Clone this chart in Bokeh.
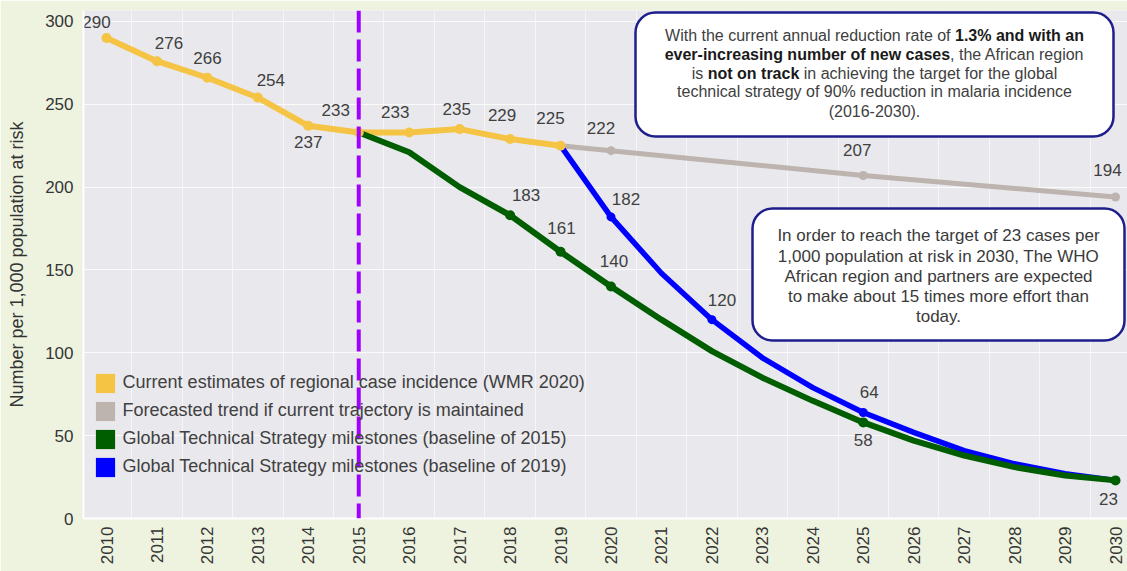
import math
from bokeh.plotting import figure
from bokeh.models import (ColumnDataSource, FixedTicker, Span, BoxAnnotation, Label,
                          Legend, LegendItem, Range1d)
from bokeh.core.properties import value
from bokeh.embed import file_html
from bokeh.resources import INLINE

# ---------------- data ----------------
years_actual = [2010, 2011, 2012, 2013, 2014, 2015, 2016, 2017, 2018, 2019]
incidence_actual = [290, 276, 266, 254, 237, 233, 233, 235, 229, 225]

years_forecast = [2019, 2020, 2025, 2030]
incidence_forecast = [225, 222, 207, 194]

years_gts2015 = [2015, 2016, 2017, 2018, 2019, 2020, 2021, 2022, 2023, 2024,
                 2025, 2026, 2027, 2028, 2029, 2030]
incidence_gts2015 = [233, 221, 200, 183, 161, 140, 120, 101, 85, 71, 58, 47, 38, 31, 26, 23]

years_gts2019 = [2019, 2020, 2021, 2022, 2023, 2024, 2025, 2026, 2027, 2028, 2029, 2030]
incidence_gts2019 = [225, 182, 148, 120, 97, 79, 64, 52, 41, 33, 27, 23]

labeled_actual = years_actual
labeled_forecast = [2020, 2025, 2030]
labeled_gts2015 = [2018, 2019, 2020, 2025, 2030]
labeled_gts2019 = [2020, 2022, 2025]

year_ticks = list(range(2010, 2031))
y_ticks = [0, 50, 100, 150, 200, 250, 300]

series_names = [
    "Current estimates of regional case incidence (WMR 2020)",
    "Forecasted trend if current trajectory is maintained",
    "Global Technical Strategy milestones (baseline of 2015)",
    "Global Technical Strategy milestones (baseline of 2019)",
]
baseline_year = 2015

note1_lines = [
    [("With the current annual reduction rate of ", False), ("1.3% and with an", True)],
    [("ever-increasing number of new cases", True), (", the African region", False)],
    [("is ", False), ("not on track", True), (" in achieving the target for the global", False)],
    [("technical strategy of 90% reduction in malaria incidence", False)],
    [("(2016-2030).", False)],
]
note2_lines = [
    "In order to reach the target of 23 cases per",
    "1,000 population at risk in 2030, The WHO",
    "African region and partners are expected",
    "to make about 15 times more effort than",
    "today.",
]

# ---------------- styling ----------------
C_YELLOW = "#F5C445"
C_GREY = "#BDB4AF"
C_GREEN = "#005E00"
C_BLUE = "#0000FF"
C_PURPLE = "#A000FF"
C_TEXT = "#404040"
FONT = "Liberation Sans"

# label offsets in screen px (dx right, dy down)
off_actual = [(-10, -16), (12, -18), (0, -20), (13, -18), (0, 16),
              (-23, -22), (-14, -20), (-3, -20), (-8, -24), (-10, -28)]
off_forecast = [(-10, -23), (-6, -26), (-8, -27)]
off_gts2015 = [(16, -20), (1, -24), (3, -26), (0, 18), (-7, 19)]
off_gts2019 = [(15, -18), (10, -20), (6, -20)]

W, H = 1127, 571
FRAME_L, FRAME_T, FRAME_B = 83, 10, 518
X_PER_YEAR = 50.45
Y_PER_UNIT = 1.657


def px_to_x(px):
    return 2010 + (px - 106) / X_PER_YEAR


def py_to_y(py):
    return (FRAME_B - py) / Y_PER_UNIT


p = figure(width=W, height=H,
           x_range=Range1d(px_to_x(FRAME_L), px_to_x(W)),
           y_range=Range1d(0, py_to_y(FRAME_T)),
           output_backend="svg", toolbar_location=None,
           min_border_left=FRAME_L, min_border_right=0, min_border_top=FRAME_T,
           min_border_bottom=H - FRAME_B,
           background_fill_color="#E9E9ED", border_fill_color="#EEF3E0",
           outline_line_color=None)

# axes
p.xaxis.ticker = FixedTicker(ticks=year_ticks)
p.yaxis.ticker = FixedTicker(ticks=y_ticks)
for ax in (p.xaxis[0], p.yaxis[0]):
    ax.axis_line_color = "white"
    ax.axis_line_width = 2
    ax.major_tick_line_color = None
    ax.minor_tick_line_color = None
    ax.major_tick_out = 0
    ax.major_tick_in = 0
    ax.minor_tick_out = 0
    ax.minor_tick_in = 0
    ax.major_label_text_font = FONT
    ax.major_label_text_font_size = "17px"
    ax.major_label_text_color = "#353535"
p.xaxis.major_label_orientation = math.pi / 2
p.xaxis.major_label_standoff = 8
p.yaxis.major_label_standoff = 10
p.yaxis.axis_label = "Number per 1,000 population at risk"
p.yaxis.axis_label_text_font = FONT
p.yaxis.axis_label_text_font_size = "18px"
p.yaxis.axis_label_text_font_style = "normal"
p.yaxis.axis_label_text_color = "#333333"
p.yaxis.axis_label_standoff = 15

# grids
p.ygrid.grid_line_color = "white"
p.ygrid.grid_line_alpha = 0.8
p.xgrid.ticker = FixedTicker(ticks=[y + 0.5 for y in range(2009, 2031)])
p.xgrid.grid_line_color = "white"
p.xgrid.grid_line_alpha = 0.6

# lines
p.line(years_forecast, incidence_forecast, line_color=C_GREY, line_width=5, line_join="round", line_cap="round")
p.line(years_actual, incidence_actual, line_color=C_YELLOW, line_width=6, line_join="round", line_cap="round")
p.line(years_gts2019, incidence_gts2019, line_color=C_BLUE, line_width=5.5, line_join="round", line_cap="round")
p.line(years_gts2015, incidence_gts2015, line_color=C_GREEN, line_width=6, line_join="round", line_cap="round")


def pick(years, vals, sel):
    d = dict(zip(years, vals))
    return [d[y] for y in sel]


sets = [
    (labeled_actual, pick(years_actual, incidence_actual, labeled_actual), off_actual, C_YELLOW, 10),
    (labeled_forecast, pick(years_forecast, incidence_forecast, labeled_forecast), off_forecast, C_GREY, 9),
    (labeled_gts2019, pick(years_gts2019, incidence_gts2019, labeled_gts2019), off_gts2019, C_BLUE, 9),
    (labeled_gts2015, pick(years_gts2015, incidence_gts2015, labeled_gts2015), off_gts2015, C_GREEN, 10),
]
for xs, ys, offs, col, sz in sets:
    p.scatter(xs, ys, size=sz, fill_color=col, line_color=None)

for xs, ys, offs, col, sz in sets:
    src = ColumnDataSource(dict(x=xs, y=ys, t=[str(v) for v in ys],
                                dx=[o[0] for o in offs], dy=[o[1] for o in offs]))
    p.text(x="x", y="y", text="t", x_offset="dx", y_offset="dy", source=src,
           text_align="center", text_baseline="middle", text_color=C_TEXT,
           text_font=value(FONT), text_font_size="17px")

# baseline dashed line
p.add_layout(Span(location=baseline_year, dimension="height", line_color=C_PURPLE,
                  line_width=4, line_dash="22 7"))

# legend with square swatches
legend_items = []
for name, col in zip(series_names, [C_YELLOW, C_GREY, C_GREEN, C_BLUE]):
    r = p.quad(left=[float("nan")], right=[float("nan")], top=[float("nan")], bottom=[float("nan")],
               fill_color=col, line_color=None)
    legend_items.append(LegendItem(label=name, renderers=[r]))
legend = Legend(items=legend_items, location=(9.6, 39.5), padding=0, margin=0,
                glyph_width=24, glyph_height=24, label_height=24, spacing=4, label_standoff=6,
                label_text_font=FONT, label_text_font_size="18px", label_text_color=C_TEXT,
                border_line_color=None, background_fill_alpha=0)
p.add_layout(legend)

# annotation boxes
BOX_LINE = "#1E1E8C"
box1 = BoxAnnotation(left=px_to_x(635), right=px_to_x(1113), top=py_to_y(12), bottom=py_to_y(136),
                     fill_color="white", fill_alpha=1, line_color=BOX_LINE, line_alpha=1,
                     line_width=2.5, border_radius=20)
box2 = BoxAnnotation(left=px_to_x(752), right=px_to_x(1124), top=py_to_y(208), bottom=py_to_y(340),
                     fill_color="white", fill_alpha=1, line_color=BOX_LINE, line_alpha=1,
                     line_width=2.5, border_radius=20)
p.add_layout(box1)
p.add_layout(box2)

REG = {' ': 278, '(': 333, ')': 333, ',': 278, '-': 333, '.': 278, '%': 889,
       'A': 667, 'C': 722, 'T': 611, 'W': 944, 'H': 722, 'O': 778,
       'a': 556, 'b': 556, 'c': 500, 'd': 556, 'e': 556, 'f': 278, 'g': 556, 'h': 556,
       'i': 222, 'j': 222, 'k': 500, 'l': 222, 'm': 833, 'n': 556, 'o': 556, 'p': 556,
       'q': 556, 'r': 333, 's': 500, 't': 278, 'u': 556, 'v': 500, 'w': 722, 'x': 500,
       'y': 500, 'z': 500}
BOLD = {' ': 278, ',': 278, '-': 333, '.': 278, '%': 889,
        'a': 556, 'b': 611, 'c': 556, 'd': 611, 'e': 556, 'f': 333, 'g': 611, 'h': 611,
        'i': 278, 'j': 278, 'k': 556, 'l': 278, 'm': 889, 'n': 611, 'o': 611, 'p': 611,
        'q': 611, 'r': 389, 's': 556, 't': 333, 'u': 611, 'v': 556, 'w': 778, 'x': 556,
        'y': 556, 'z': 500}


def text_width(s, bold, size):
    tab = BOLD if bold else REG
    return sum(tab.get(ch, 556) for ch in s) / 1000.0 * size


NOTE1_SIZE = 16
note1_cx = px_to_x(874)
note1_y = [35, 54, 73, 91, 111]
for segs, py in zip(note1_lines, note1_y):
    total = sum(text_width(s, b, NOTE1_SIZE) for s, b in segs)
    cur = -total / 2
    for s, b in segs:
        lead = len(s) - len(s.lstrip(" "))
        shown = s.strip(" ")
        p.add_layout(Label(x=note1_cx, y=py_to_y(py),
                           x_offset=cur + text_width(" " * lead, b, NOTE1_SIZE), text=shown,
                           text_align="left", text_baseline="middle",
                           text_font=FONT, text_font_size=f"{NOTE1_SIZE}px",
                           text_font_style="bold" if b else "normal",
                           text_color="#1a1a1a" if b else C_TEXT))
        cur += text_width(s, b, NOTE1_SIZE)

note2_cx = px_to_x(938)
note2_y = [235, 256, 276, 296, 316]
for s, py in zip(note2_lines, note2_y):
    p.add_layout(Label(x=note2_cx, y=py_to_y(py), text=s,
                       text_align="center", text_baseline="middle",
                       text_font=FONT, text_font_size="17px", text_color="#3a3a3a"))

open("out.html", "w").write(file_html(p, INLINE))
